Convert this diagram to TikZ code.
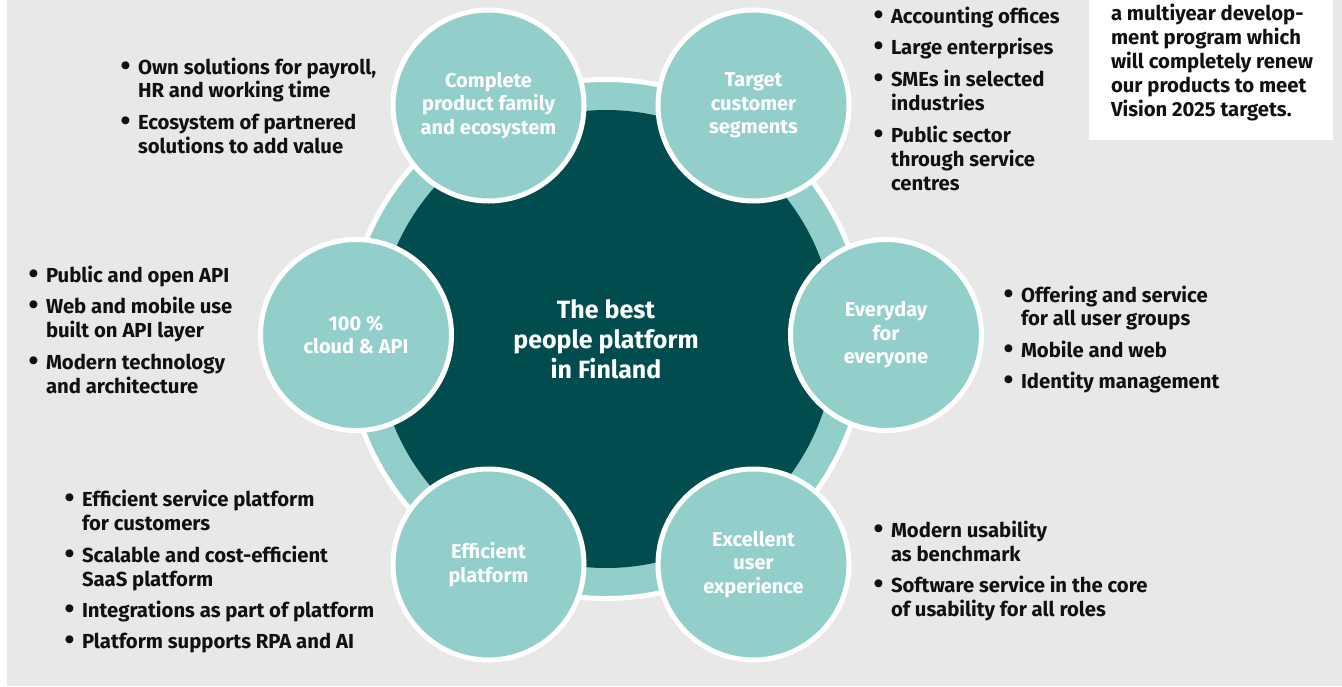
\documentclass[tikz,border=0pt]{standalone}
\usepackage{fontspec}
\usepackage{graphicx}
\setmainfont{Fira Sans}
\definecolor{bg}{HTML}{E8E8E8}
\definecolor{lteal}{HTML}{93CFCA}
\definecolor{dteal}{HTML}{014C4E}
\definecolor{ink}{HTML}{111111}
\newcommand\bt{\llap{\raisebox{-1.2pt}{\scalebox{1.4}{\textbullet}}\hspace{7.5pt}}}
\begin{document}
\begin{tikzpicture}[x=1pt,y=-1pt,
  txt/.style={anchor=base west, inner sep=0pt, outer sep=0pt, text=ink,
    font=\fontsize{20.3}{23}\selectfont\bfseries},
  wtxt/.style={align=center, text=white, font=\fontsize{20}{23.5}\selectfont\bfseries},
  sat/.style={circle, minimum size=191pt, inner sep=0pt, fill=lteal, draw=white, line width=5pt},
]
\useasboundingbox (0,0) rectangle (1342,686);
\fill[bg] (7,0) rectangle (1342,686);
\fill[white] (1089,0) rectangle (1333,140);

% ring and core
\node[circle, minimum size=519pt, inner sep=0pt, fill=lteal, draw=white, line width=5pt] (ring) at (606,339) {};
\node[circle, minimum size=458pt, inner sep=0pt, fill=dteal, text=white, align=center,
  font=\fontsize{25}{30}\selectfont\bfseries] (core) at (606,339) {The best\\people platform\\in Finland};

% satellites
\node[sat, wtxt] (complete) at (488.5,105.5) {Complete\\product family\\and ecosystem};
\node[sat, wtxt] (target) at (753.5,105.5) {Target\\customer\\segments};
\node[sat, wtxt] (cloud) at (356,335) {100 \%\\cloud \& API};
\node[sat, wtxt] (everyday) at (886,335) {Everyday\\for\\everyone};
\node[sat, wtxt] (efficient) at (488.5,564.5) {Efficient\\platform};
\node[sat, wtxt] (excellent) at (753.5,564.5) {Excellent\\user\\experience};

% top-left list
\node[txt] (tl1) at (138,74) {\bt Own solutions for payroll,};
\node[txt] (tl2) at (138,97) {HR and working time};
\node[txt] (tl3) at (138,129) {\bt Ecosystem of partnered};
\node[txt] (tl4) at (138,153) {solutions to add value};

% top-right list
\node[txt] (tr1) at (891,23) {\bt Accounting offices};
\node[txt] (tr2) at (891,54) {\bt Large enterprises};
\node[txt] (tr3) at (891,86) {\bt SMEs in selected};
\node[txt] (tr4) at (891,110) {industries};
\node[txt] (tr5) at (891,142) {\bt Public sector};
\node[txt] (tr6) at (891,166) {through service};
\node[txt] (tr7) at (891,190) {centres};

% white box text
\node[txt] (wb1) at (1111,20) {a multiyear develop-};
\node[txt] (wb2) at (1111,44) {ment program which};
\node[txt] (wb3) at (1111,68) {will completely renew};
\node[txt] (wb4) at (1111,92) {our products to meet};
\node[txt] (wb5) at (1111,116) {Vision 2025 targets.};

% left list
\node[txt] (le1) at (46,282) {\bt Public and open API};
\node[txt] (le2) at (46,313) {\bt Web and mobile use};
\node[txt] (le3) at (46,337) {built on API layer};
\node[txt] (le4) at (46,369) {\bt Modern technology};
\node[txt] (le5) at (46,393) {and architecture};

% right list
\node[txt] (ri1) at (1021,302) {\bt Offering and service};
\node[txt] (ri2) at (1021,325) {for all user groups};
\node[txt] (ri3) at (1021,357) {\bt Mobile and web};
\node[txt] (ri4) at (1021,388) {\bt Identity management};

% bottom-left list
\node[txt] (bl1) at (82,506) {\bt Efficient service platform};
\node[txt] (bl2) at (82,530) {for customers};
\node[txt] (bl3) at (82,562) {\bt Scalable and cost-efficient};
\node[txt] (bl4) at (82,586) {SaaS platform};
\node[txt] (bl5) at (82,617) {\bt Integrations as part of platform};
\node[txt] (bl6) at (82,648) {\bt Platform supports RPA and AI};

% bottom-right list
\node[txt] (br1) at (891,537) {\bt Modern usability};
\node[txt] (br2) at (891,561) {as benchmark};
\node[txt] (br3) at (891,592) {\bt Software service in the core};
\node[txt] (br4) at (891,616) {of usability for all roles};
\end{tikzpicture}
\end{document}
